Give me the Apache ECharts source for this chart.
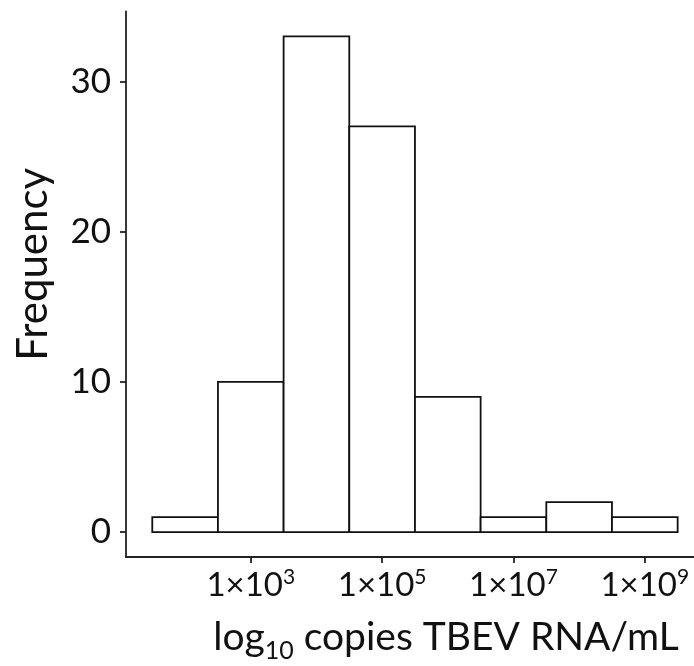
<!DOCTYPE html>
<html>
<head>
<meta charset="utf-8">
<script src="https://cdn.jsdelivr.net/npm/echarts@6/dist/echarts.min.js"></script>
<style>html,body{margin:0;padding:0;background:#fff;}#chart{width:694px;height:666px;}</style>
</head>
<body>
<div id="chart"></div>
<script>
// log10 bin centres (each bin is 1 log unit wide)
const binCenters = [2, 3, 4, 5, 6, 7, 8, 9];
const frequencies = [1, 10, 33, 27, 9, 1, 2, 1];
const xTickExponents = [3, 5, 7, 9];
const yTicks = [0, 10, 20, 30];
const binWidth = 1;

const FONT = 'Lato';
const chart = echarts.init(document.getElementById('chart'), null, {renderer: 'canvas'});
const axisLine = {show: true, onZero: false, lineStyle: {color: '#222', width: 1.8}};

chart.setOption({
  animation: false,
  backgroundColor: '#fff',
  grid: {left: 126, right: 0, top: 11.5, bottom: 109, containLabel: false, outerBoundsMode: 'none'},
  xAxis: {
    type: 'value', min: 1.1, max: 9.749,
    axisLine: axisLine,
    splitLine: {show: false},
    axisTick: {show: true, length: 6, lineStyle: {color: '#222', width: 1.8}, customValues: xTickExponents},
    axisLabel: {
      customValues: xTickExponents, margin: 10,
      formatter: v => '1×10{sup|' + v + '}',
      rich: {sup: {fontSize: 21, verticalAlign: 'top', padding: [0, 0, 16, 0], fontFamily: FONT, color: '#111'}},
      fontSize: 33, color: '#111', fontFamily: FONT
    },
    name: 'log{sub|10} copies TBEV RNA/mL',
    nameLocation: 'middle', nameGap: 55,
    nameTextStyle: {
      fontSize: 39, color: '#111', fontFamily: FONT, padding: [0, 0, 0, 72],
      rich: {sub: {fontSize: 25, fontFamily: FONT, color: '#111', padding: [26, 0, 0, 0]}}
    }
  },
  yAxis: {
    type: 'value', min: -1.65, max: 34.65,
    axisLine: axisLine,
    splitLine: {show: false},
    axisTick: {show: true, length: 6, lineStyle: {color: '#222', width: 1.8}, customValues: yTicks},
    axisLabel: {customValues: yTicks, margin: 15, fontSize: 35, color: '#111', fontFamily: FONT},
    name: 'Frequency', nameLocation: 'middle', nameGap: 72, nameRotate: 90,
    nameTextStyle: {fontSize: 42, color: '#111', fontFamily: FONT, padding: [0, 0, 0, 40]}
  },
  series: [{
    type: 'custom',
    data: binCenters.map((c, i) => [c, frequencies[i]]),
    renderItem: function (params, api) {
      const c = api.value(0), f = api.value(1);
      const p0 = api.coord([c - binWidth / 2, 0]);
      const p1 = api.coord([c + binWidth / 2, f]);
      return {
        type: 'rect',
        shape: {x: p0[0], y: p1[1], width: p1[0] - p0[0], height: p0[1] - p1[1]},
        style: {fill: '#fff', stroke: '#111', lineWidth: 1.8}
      };
    }
  }]
});
</script>
</body>
</html>
